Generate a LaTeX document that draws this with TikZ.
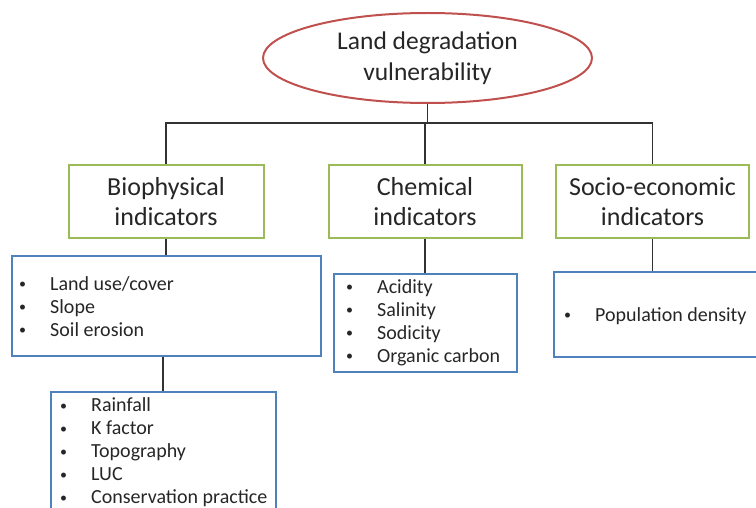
\documentclass[tikz,border=0pt]{standalone}
\usepackage{fontspec}
\setmainfont{Carlito}
\usetikzlibrary{shapes.geometric}

\definecolor{ovalred}{RGB}{192,80,77}
\definecolor{boxgreen}{RGB}{155,187,89}
\definecolor{boxblue}{RGB}{79,129,189}
\definecolor{linegray}{RGB}{50,50,50}
\newcommand{\bitem}[1]{\makebox[31pt][l]{\raisebox{1.5pt}{\fontsize{14}{14}\selectfont\textbullet}}#1}

\begin{document}
\begin{tikzpicture}[x=1pt,y=1pt,yscale=-1,
  oval/.style={draw=ovalred,line width=2pt,ellipse,inner sep=0,minimum width=329,minimum height=90,align=center,text=black!85,font=\fontsize{25.5}{31}\selectfont},
  greenbox/.style={draw=boxgreen,line width=2pt,inner sep=0,minimum width=193,minimum height=73,align=center,text=black!85,font=\fontsize{26}{30}\selectfont},
  bluebox/.style={draw=boxblue,line width=2pt,inner sep=0},
  bullets/.style={anchor=base west,inner sep=0,align=left,text=black!85,font=\fontsize{20}{23}\selectfont},
  link/.style={draw=linegray,line width=1.3pt}]
\clip (0,0) rectangle (756,508); %page is 756 wide, 508 high

%Shape: Ellipse
\node [oval] (top) at (427.5,58) {Land degradation\\vulnerability};
\coordinate (split) at (427.5,123);

%Shape: Rectangle (green)
\node [greenbox,minimum width=195] (bio) at (166,202) {Biophysical\\indicators};
\node [greenbox] (chem) at (425,201.5) {Chemical\\indicators};
\node [greenbox] (socio) at (652.5,201.5) {Socio-economic\\indicators};

%Shape: Rectangle (blue)
\node [bluebox,minimum width=309,minimum height=100] (bioList) at (166,306) {};
\node [bluebox,minimum width=183,minimum height=98] (chemList) at (425,323) {};
\node [bluebox,minimum width=246,minimum height=85] (socioList) at (677,314.5) {};
\node [bluebox,minimum width=225,minimum height=140] (erosionList) at (163,462) {};

%Straight Lines
\draw [link] (top.south) -- (split);
\draw [link] (bio.north) |- (split) -| (socio.north);
\draw [link] (chem.north) -- (chem.north |- split);
\draw [link] (bio.south) -- (bioList.north);
\draw [link] (chem.south) -- (chemList.north);
\draw [link] (socio.south) -- (socio.south |- socioList.north);
\draw [link] (erosionList.north |- bioList.south) -- (erosionList.north);

% Text Node (anchored at the baseline of the last line)
\node [bullets] (bioItems) at (19,336) {\bitem{Land use/cover}\\\bitem{Slope}\\\bitem{Soil erosion}};
% Text Node
\node [bullets] (chemItems) at (346,362) {\bitem{Acidity}\\\bitem{Salinity}\\\bitem{Sodicity}\\\bitem{Organic carbon}};
% Text Node
\node [bullets] (socioItems) at (564,321) {\bitem{Population density}};
% Text Node
\node [bullets] (erosionItems) at (60,503.5) {\bitem{Rainfall}\\\bitem{K factor}\\\bitem{Topography}\\\bitem{LUC}\\\bitem{Conservation practice}};

\end{tikzpicture}
\end{document}
